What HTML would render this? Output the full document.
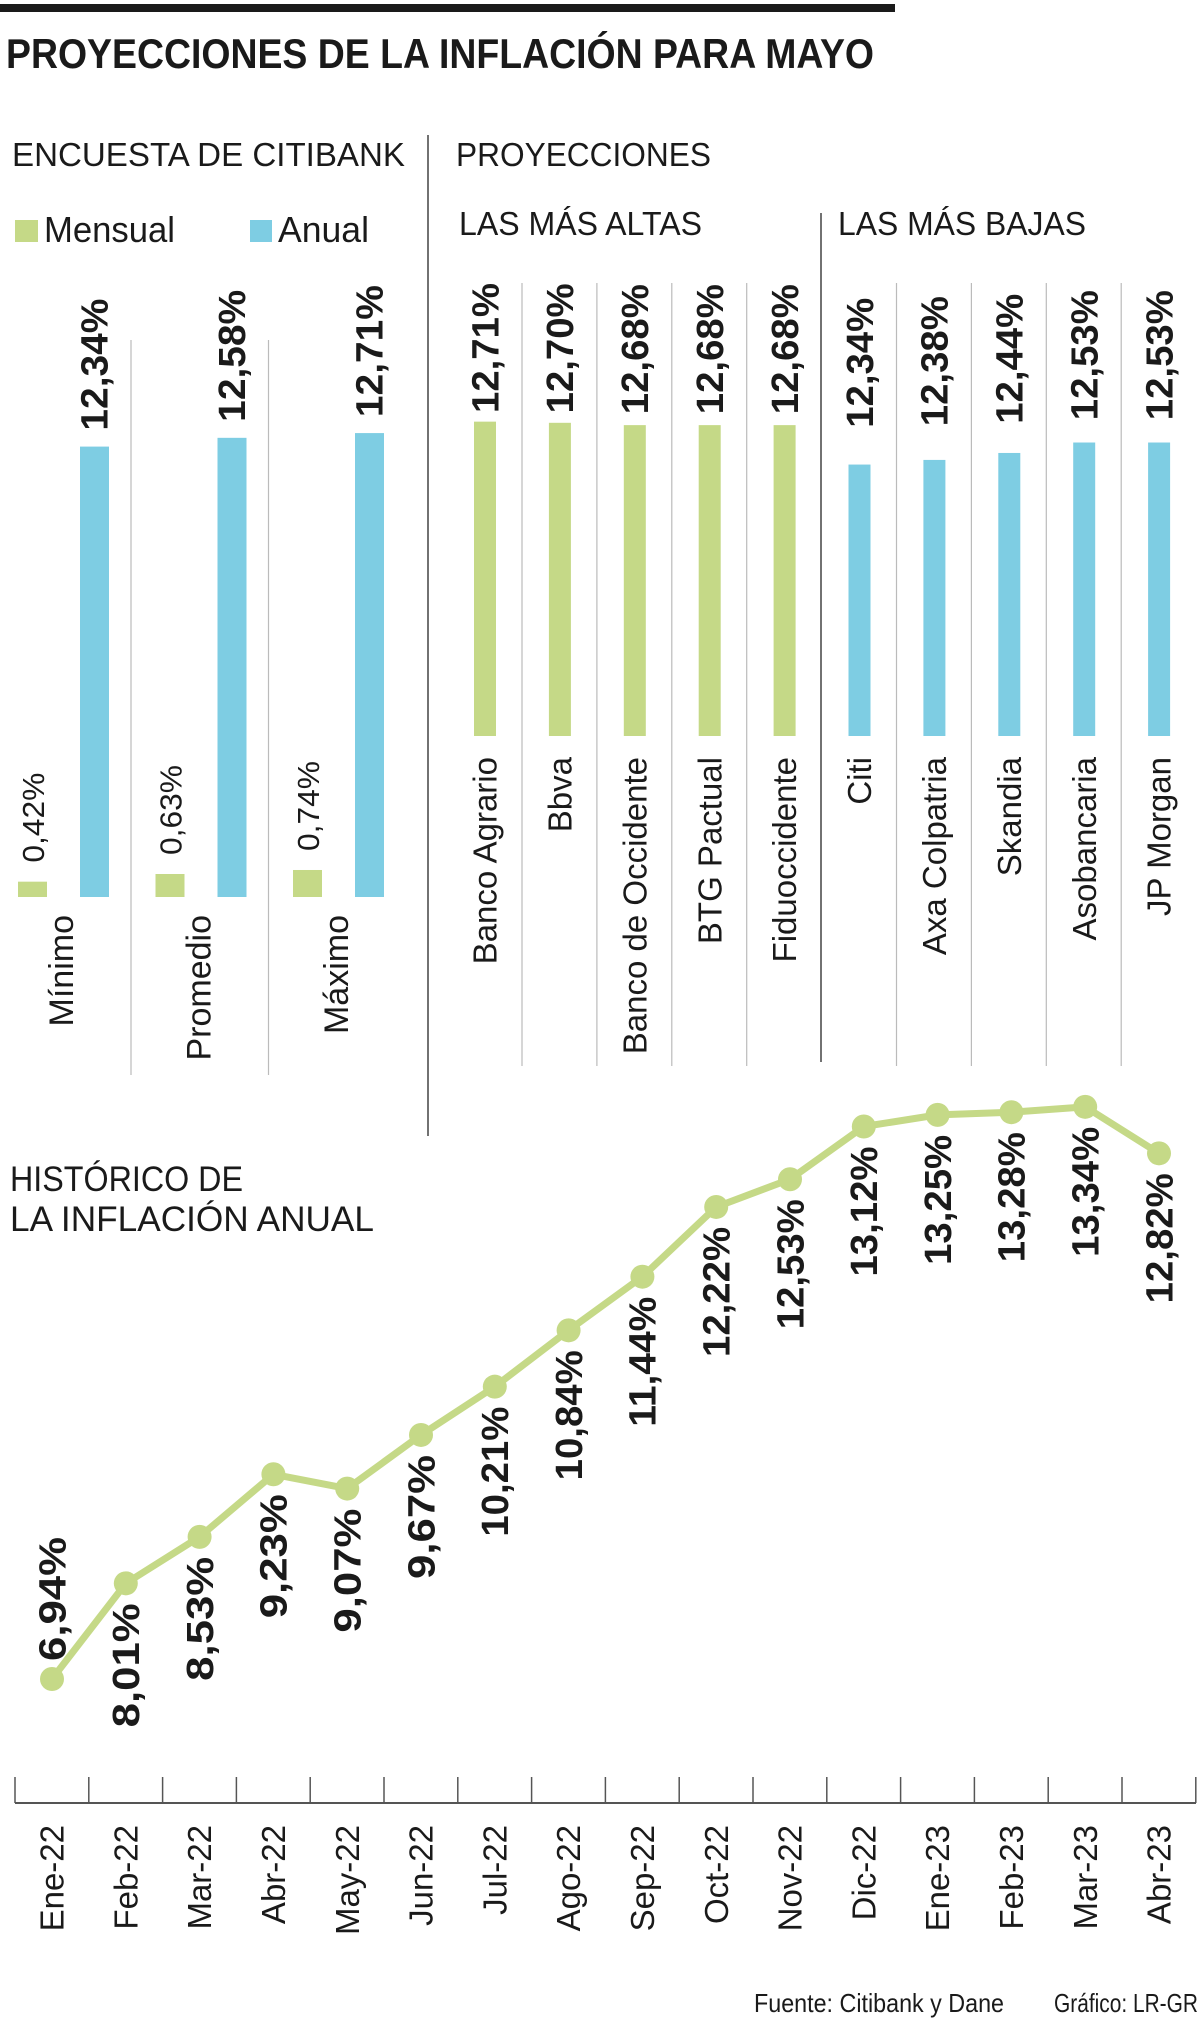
<!DOCTYPE html>
<html><head><meta charset="utf-8"><style>
html,body{margin:0;padding:0;background:#fff;}
svg{display:block;font-family:"Liberation Sans",sans-serif;}
</style></head><body>
<svg id="chart" width="1200" height="2019" viewBox="0 0 1200 2019">
<rect x="0" y="4" width="895" height="8" fill="#1a1a1a"/>
<text x="6" y="68" font-size="42" font-weight="bold" textLength="868" lengthAdjust="spacingAndGlyphs" fill="#1a1a1a">PROYECCIONES DE LA INFLACIÓN PARA MAYO</text>
<text x="12" y="166" font-size="33" textLength="393" lengthAdjust="spacingAndGlyphs" fill="#1a1a1a">ENCUESTA DE CITIBANK</text>
<text x="456" y="166" font-size="33" textLength="255" lengthAdjust="spacingAndGlyphs" fill="#1a1a1a">PROYECCIONES</text>
<line x1="428" y1="135" x2="428" y2="1136" stroke="#444" stroke-width="1.5"/>
<line x1="821" y1="213" x2="821" y2="1062" stroke="#444" stroke-width="1.5"/>
<rect x="15" y="220" width="23" height="22" fill="#c5d987"/>
<text x="44" y="242" font-size="36" textLength="131" lengthAdjust="spacingAndGlyphs" fill="#1a1a1a">Mensual</text>
<rect x="250" y="220" width="22" height="22" fill="#7ecde3"/>
<text x="278" y="242" font-size="36" textLength="91" lengthAdjust="spacingAndGlyphs" fill="#1a1a1a">Anual</text>
<text x="459" y="235" font-size="33" textLength="243" lengthAdjust="spacingAndGlyphs" fill="#1a1a1a">LAS MÁS ALTAS</text>
<text x="838" y="235" font-size="33" textLength="248" lengthAdjust="spacingAndGlyphs" fill="#1a1a1a">LAS MÁS BAJAS</text>
<text x="10" y="1191" font-size="35" textLength="233" lengthAdjust="spacingAndGlyphs" fill="#1a1a1a">HISTÓRICO DE</text>
<text x="10" y="1231" font-size="35" textLength="364" lengthAdjust="spacingAndGlyphs" fill="#1a1a1a">LA INFLACIÓN ANUAL</text>
<text x="754" y="2012" font-size="26" textLength="250" lengthAdjust="spacingAndGlyphs" fill="#1a1a1a">Fuente: Citibank y Dane</text>
<text x="1054" y="2012" font-size="26" textLength="144" lengthAdjust="spacingAndGlyphs" fill="#1a1a1a">Gráfico: LR-GR</text>
<g id="citi"></g><g id="proj"></g><g id="hist"></g>
</svg>
<script>
const citiCategories = ["Mínimo", "Promedio", "Máximo"];
const citiMensual = [0.42, 0.63, 0.74];
const citiAnual = [12.34, 12.58, 12.71];
const projNames = ["Banco Agrario", "Bbva", "Banco de Occidente", "BTG Pactual", "Fiduoccidente", "Citi", "Axa Colpatria", "Skandia", "Asobancaria", "JP Morgan"];
const projValues = [12.71, 12.70, 12.68, 12.68, 12.68, 12.34, 12.38, 12.44, 12.53, 12.53];
const histMonths = ["Ene-22","Feb-22","Mar-22","Abr-22","May-22","Jun-22","Jul-22","Ago-22","Sep-22","Oct-22","Nov-22","Dic-22","Ene-23","Feb-23","Mar-23","Abr-23"];
const histValues = [6.94, 8.01, 8.53, 9.23, 9.07, 9.67, 10.21, 10.84, 11.44, 12.22, 12.53, 13.12, 13.25, 13.28, 13.34, 12.82];

const NS = "http://www.w3.org/2000/svg";
const GREEN = "#c5d987", BLUE = "#7ecde3";
function mk(parent, tag, attrs, txt) {
  const e = document.createElementNS(NS, tag);
  for (const k in attrs) e.setAttribute(k, attrs[k]);
  if (txt !== undefined) e.textContent = txt;
  parent.appendChild(e);
  return e;
}
function fmt(v) { return v.toFixed(2).replace(".", ",") + "%"; }
function vtext(parent, x, y, txt, size, weight, anchor, len) {
  const a = {x: 0, y: 0, dy: "0.35em", transform: `translate(${x},${y}) rotate(-90)`, "font-size": size, "font-weight": weight, "text-anchor": anchor, fill: "#1a1a1a"};
  if (len) { a.textLength = len; a.lengthAdjust = "spacingAndGlyphs"; }
  return mk(parent, "text", a, txt);
}

// Citibank survey
const citi = document.getElementById("citi");
const citiBase = 897, citiK = 36.5;
const citiY = v => citiBase - v * citiK;
const citiX = i => 94 + i * 137.5;
for (let i = 0; i < 2; i++) {
  const d = mk(citi, "line", {x1: citiX(i) + 37, y1: 340, x2: citiX(i) + 37, y2: 1075, stroke: "#bbb", "stroke-width": 1.2});
  
  
}
citiCategories.forEach((c, i) => {
  const cx = citiX(i);
  const ga = mk(citi, "rect", {x: cx - 76, y: citiY(citiMensual[i]), width: 29, height: citiBase - citiY(citiMensual[i]), fill: GREEN});
  
  
  const ba = mk(citi, "rect", {x: cx - 14, y: citiY(citiAnual[i]), width: 29, height: citiBase - citiY(citiAnual[i]), fill: BLUE});
  
  
  const la = vtext(citi, cx, citiY(citiAnual[i]) - 16, fmt(citiAnual[i]), 38, "bold", "start", 132);
  
  
  const lm = vtext(citi, cx - 61, citiY(citiMensual[i]) - 19, fmt(citiMensual[i]), 31, "normal", "start", 90);
  
  
  const lc = vtext(citi, cx - 33, 915, c, 34, "normal", "end");
  
  
});

// Projections
const proj = document.getElementById("proj");
const projBase = 736, projK = 116, projMin = 10;
const projY = v => projBase - (v - projMin) * projK;
const projX = i => 485 + i * 74.9;
const projLabelY = v => 413 + (12.71 - v) * 40;
projNames.forEach((n, i) => {
  const cx = projX(i);
  if (i !== 4 && i !== 9) {
    const d = mk(proj, "line", {x1: cx + 37, y1: 283, x2: cx + 37, y2: 1066, stroke: "#bbb", "stroke-width": 1.2});
    
    
  }
  const b = mk(proj, "rect", {x: cx - 11, y: projY(projValues[i]), width: 22, height: projBase - projY(projValues[i]), fill: i < 5 ? GREEN : BLUE});
  
  
  const l = vtext(proj, cx, projLabelY(projValues[i]), fmt(projValues[i]), 38, "bold", "start", 130);
  
  
  const nl = vtext(proj, cx, 757, n, 33, "normal", "end");
  
  
});

// Historical line
const hist = document.getElementById("hist");
const histX = i => 52 + i * 73.8;
const histY = v => 1679 - (v - 6.94) * 89.4;
const axisY = 1803;
const ax = mk(hist, "line", {x1: 15, y1: axisY, x2: 1196, y2: axisY, stroke: "#555", "stroke-width": 2});


for (let i = 0; i <= histMonths.length; i++) {
  const t = mk(hist, "line", {x1: 15 + i * 73.8, y1: 1777, x2: 15 + i * 73.8, y2: axisY, stroke: "#555", "stroke-width": 1.5});
  
  
}
histMonths.forEach((m, i) => {
  const t = vtext(hist, histX(i), 1825, m, 33, "normal", "end");
  
  
});
const pts = histValues.map((v, i) => histX(i) + "," + histY(v)).join(" ");
const pl = mk(hist, "polyline", {points: pts, fill: "none", stroke: GREEN, "stroke-width": 7, "stroke-linejoin": "round"});


histValues.forEach((v, i) => {
  const c = mk(hist, "circle", {cx: histX(i), cy: histY(v), r: 12, fill: GREEN});
  
  
  const txt = fmt(v);
  const len = txt.length > 5 ? 130 : 124;
  const l = i === 0
    ? vtext(hist, histX(i), histY(v) - 18, txt, 38, "bold", "start", len)
    : vtext(hist, histX(i), histY(v) + 20, txt, 38, "bold", "end", len);
  
  
});
</script>
</body></html>
